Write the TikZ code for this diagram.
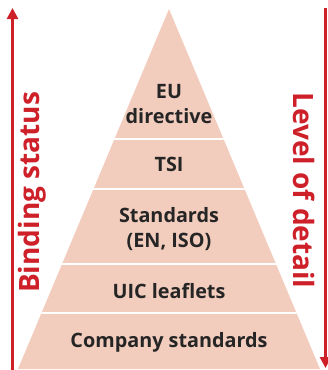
\documentclass[tikz,border=0pt]{standalone}
\usepackage{fontspec}
\setmainfont{Open Sans}
\usetikzlibrary{arrows.meta}
\definecolor{pyrfill}{RGB}{242,204,189}
\definecolor{axisred}{RGB}{206,32,41}
\definecolor{labeltext}{RGB}{38,37,37}
\begin{document}
\begin{tikzpicture}[x=1pt,y=-1pt,
  level/.style={font=\fontsize{19.8}{25}\selectfont\bfseries, text=labeltext, inner sep=0pt, align=center},
  axislabel/.style={font=\fontsize{28}{30}\selectfont\bfseries, text=axisred, inner sep=0pt},
  axis/.style={draw=axisred, line width=2.6pt, -{Triangle[length=11pt,width=11pt]}},
  divider/.style={draw=white, line width=1.6pt}]
\useasboundingbox (0,0) rectangle (328,370);
% pyramid outline
\coordinate (apex) at (169,9);
\coordinate (bl) at (18,369);
\coordinate (br) at (320,369);
\fill[pyrfill] (apex) -- (br) -- (bl) -- cycle;
% white bands between the levels
\begin{scope}
  \clip (apex) -- (br) -- (bl) -- cycle;
  \foreach \y in {139,189,264,313} \draw[divider] (0,\y) -- (328,\y);
\end{scope}
% side axes
\coordinate (lb) at (12.5,370);
\coordinate (lt) at (12.5,8);
\coordinate (rt) at (325.5,8);
\coordinate (rb) at (325.5,368);
\draw[axis] (lb) -- (lt);
\draw[axis] (rt) -- (rb);
\node[axislabel, rotate=90, anchor=base] (binding) at (39,192.5) {Binding status};
\node[axislabel, rotate=-90, anchor=base] (detail) at (293,190.5) {Level of detail};
% levels (base anchor sits on the last line)
\node[level, anchor=base] (eu) at (169,123) {EU\\directive};
\node[level, anchor=base] (tsi) at (169,171) {TSI};
\node[level, anchor=base] (std) at (169,247) {Standards\\(EN, ISO)};
\node[level, anchor=base] (uic) at (169,298) {UIC leaflets};
\node[level, anchor=base] (company) at (169,347) {Company standards};
\end{tikzpicture}
\end{document}
